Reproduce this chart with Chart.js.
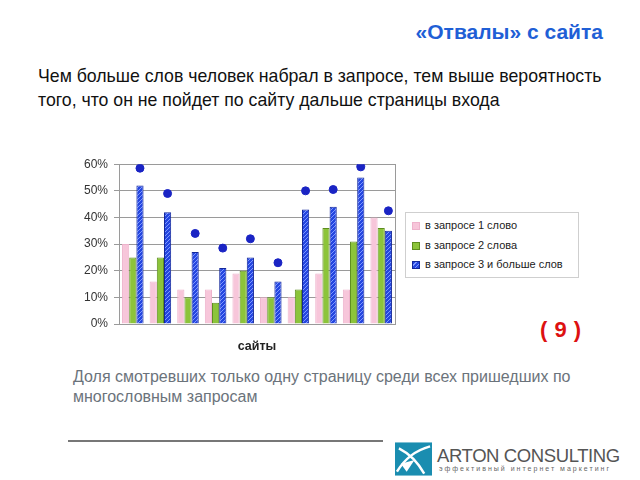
<!DOCTYPE html>
<html><head><meta charset="utf-8">
<script src="https://cdn.jsdelivr.net/npm/chart.js@4/dist/chart.umd.min.js"></script>
<style>
html,body{margin:0;padding:0;background:#fff;width:640px;height:480px;overflow:hidden;font-family:"Liberation Sans",Arial,sans-serif;}
#wrap{position:relative;width:640px;height:480px;}
.t{position:absolute;white-space:nowrap;}
#title{right:37px;top:20px;font-size:21px;font-weight:bold;color:#1f5fd6;}
#sub{left:38px;top:64px;font-size:17.7px;line-height:24px;color:#111;}
#nine{left:540px;top:317px;font-size:22px;font-weight:bold;color:#dd1111;word-spacing:1px;}
#foot{left:73px;top:367px;font-size:16px;line-height:20px;color:#6b737b;}
#rule{position:absolute;left:68px;top:440px;width:315px;height:2px;background:#777;}
#chartBox{position:absolute;left:70px;top:151px;width:330px;height:205px;}
#legend{position:absolute;left:405px;top:212px;width:172px;height:64px;border:1px solid #cfcfcf;font-size:11px;color:#222;}
#legend div{position:absolute;left:6px;height:14px;line-height:14px;}
#legend span.sw{display:inline-block;width:8px;height:8px;margin-right:5px;vertical-align:-1px;box-sizing:border-box;}
#logoTxt{left:437px;top:445px;font-size:18.5px;color:#555;letter-spacing:-0.4px;}
#logoSub{left:439px;top:465px;font-size:7px;color:#666;letter-spacing:2px;}
</style></head>
<body><div id="wrap">
<div class="t" id="title">«Отвалы» с сайта</div>
<div class="t" id="sub">Чем больше слов человек набрал в запросе, тем выше вероятность<br>того, что он не пойдет по сайту дальше страницы входа</div>
<div id="chartBox"><canvas id="c" width="330" height="205"></canvas></div>
<div id="legend"></div>
<div class="t" id="nine">( 9 )</div>
<div class="t" id="foot">Доля смотревших только одну страницу среди всех пришедших по<br>многословным запросам</div>
<div id="rule"></div>
<svg style="position:absolute;left:395px;top:442px" width="37" height="34" viewBox="0 0 38 34">
<rect x="0" y="0" width="38" height="34" fill="#1a8db0"/>
<path d="M2 30 Q14 10 36 4" stroke="#fff" stroke-width="2.5" fill="none"/>
<path d="M4 6 Q20 14 30 32" stroke="#fff" stroke-width="2.5" fill="none"/>
<path d="M6 22 L20 18 L12 30 Z" fill="#fff"/>
</svg>
<div class="t" id="logoTxt">ARTON CONSULTING</div>
<div class="t" id="logoSub">эффективный интернет маркетинг</div>
</div>
<script>
const categories = ["1","2","3","4","5","6","7","8","9","10"];
const oneWord   = [30,16,13,13,19,10,10,19,13,40];
const twoWords  = [25,25,10, 8,20,10,13,36,31,36];
const threePlus = [52,42,27,21,25,16,43,44,55,35];
const dotValues = [58.5,49,34,28.5,32,23,50,50.5,59,42.5];
const seriesNames = ["в запросе 1 слово","в запросе 2 слова","в запросе 3 и больше слов"];
const yTicks = [0,10,20,30,40,50,60];

function hatch(){
  const p=document.createElement('canvas');p.width=4;p.height=4;
  const g=p.getContext('2d');
  g.fillStyle='#2446e0';g.fillRect(0,0,4,4);
  g.strokeStyle='#7d97ff';g.lineWidth=1;
  g.beginPath();g.moveTo(0,4);g.lineTo(4,0);g.moveTo(-1,1);g.lineTo(1,-1);g.moveTo(3,5);g.lineTo(5,3);g.stroke();
  return g.createPattern(p,'repeat');
}
const ctx=document.getElementById('c').getContext('2d');
const blueFill=hatch();

const moveDots={id:'moveDots',afterDatasetsUpdate(chart){
  const blue=chart.getDatasetMeta(2).data, dots=chart.getDatasetMeta(3).data;
  dots.forEach((p,i)=>{ if(blue[i]) p.x=blue[i].x; });
}};
const frame={id:'frame',beforeDatasetsDraw(chart){
  const a=chart.chartArea,g=chart.ctx;g.save();g.strokeStyle='#9a9a9a';g.lineWidth=1;
  g.strokeRect(Math.round(a.left)+0.5,Math.round(a.top)+0.5,Math.round(a.right-a.left),Math.round(a.bottom-a.top));g.restore();
}};

const chart=new Chart(ctx,{
  type:'bar',
  data:{labels:categories,datasets:[
    {label:seriesNames[0],data:oneWord,backgroundColor:'#f7c6da',borderColor:'#eeb3cc',borderWidth:1,order:2},
    {label:seriesNames[1],data:twoWords,backgroundColor:'#8cc43a',borderColor:'#5d8d1e',borderWidth:1,order:2},
    {label:seriesNames[2],data:threePlus,backgroundColor:blueFill,borderColor:'#13279a',borderWidth:1,order:2},
    {type:'line',label:'dots',data:dotValues,showLine:false,pointRadius:4,pointBackgroundColor:'#1a24c4',pointBorderColor:'#1a24c4',order:0}
  ]},
  options:{
    responsive:false,animation:false,
    layout:{padding:{left:0,right:5,top:3,bottom:0}},
    plugins:{legend:{display:false},tooltip:{enabled:false}},
    datasets:{bar:{barPercentage:1,categoryPercentage:0.78}},
    scales:{
      x:{grid:{display:false},border:{color:'#888'},ticks:{display:false},
         title:{display:true,text:'сайты',font:{family:'Liberation Sans',size:12.5,weight:'bold'},color:'#222',padding:{top:7,bottom:2}}},
      y:{min:0,max:60,afterBuildTicks(s){s.ticks=yTicks.map(v=>({value:v}));},
         ticks:{callback:v=>v+'%',font:{family:'Liberation Sans',size:12},color:'#333',padding:6},
         grid:{color:'#9a9a9a',tickLength:5},border:{color:'#888'},
         afterFit(s){s.width=49;}}
    }
  },
  plugins:[moveDots,frame]
});

const lg=document.getElementById('legend');
const swatch=['#f7c6da','#8cc43a','repeating-linear-gradient(135deg,#2446e0 0 2px,#7d97ff 2px 3px)'];
const swb=['#eeb3cc','#5d8d1e','#13279a'];
chart.data.datasets.slice(0,3).forEach((d,i)=>{
  const r=document.createElement('div');r.style.top=(5+i*19.5)+'px';
  r.innerHTML='<span class="sw" style="background:'+swatch[i]+';border:1px solid '+swb[i]+'"></span>'+d.label;
  lg.appendChild(r);
});
</script>
</body></html>
